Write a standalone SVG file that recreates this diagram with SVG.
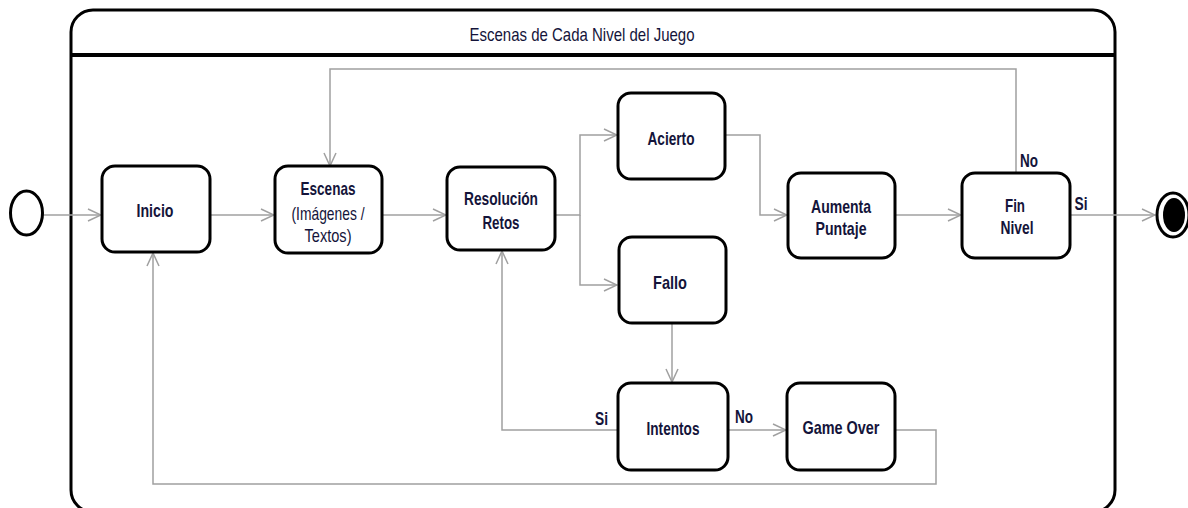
<svg xmlns="http://www.w3.org/2000/svg" width="1188" height="508" viewBox="0 0 1188 508">
<style>
.frame{fill:#fff;stroke:#000;stroke-width:3}
.node{fill:#fff;stroke:#000;stroke-width:3}
.c{fill:none;stroke:#a0a0a0;stroke-width:1.5}
.t{font-family:"Liberation Sans",Arial,sans-serif;font-size:19px;font-weight:bold;fill:#14143a;text-anchor:middle}
.r{font-weight:normal}
.h{font-family:"Liberation Sans",Arial,sans-serif;font-size:19px;fill:#14143a;text-anchor:middle}
.l{font-family:"Liberation Sans",Arial,sans-serif;font-size:18px;font-weight:bold;fill:#14143a;text-anchor:middle}
</style>
<defs>
<marker id="a" markerUnits="userSpaceOnUse" markerWidth="16" markerHeight="16" viewBox="-15 -8 16 16" refX="0" refY="0" orient="auto">
<path d="M-13,-6 L0,0 L-13,6" fill="none" stroke="#a0a0a0" stroke-width="1.5"/>
</marker>
</defs>
<rect width="1188" height="508" fill="#fff"/>
<g id="container">
<rect class="frame" x="71" y="10" width="1044" height="502" rx="22"/>
<line x1="71" y1="55" x2="1115" y2="55" stroke="#000" stroke-width="4"/>
<text class="h" x="582" y="41" textLength="225" lengthAdjust="spacingAndGlyphs">Escenas de Cada Nivel del Juego</text>
</g>
<g id="connectors">
<path class="c" d="M42,215 H101" marker-end="url(#a)"/>
<path class="c" d="M210,215 H274" marker-end="url(#a)"/>
<path class="c" d="M382,215 H446" marker-end="url(#a)"/>
<path class="c" d="M555,215 H580 V135 H617" marker-end="url(#a)"/>
<path class="c" d="M580,215 V285 H617" marker-end="url(#a)"/>
<path class="c" d="M725,135 H760 V215 H787" marker-end="url(#a)"/>
<path class="c" d="M895,215 H961" marker-end="url(#a)"/>
<path class="c" d="M1070,215 H1155" marker-end="url(#a)"/>
<path class="c" d="M1016,173 V69 H330 V166" marker-end="url(#a)"/>
<path class="c" d="M672,323 V382" marker-end="url(#a)"/>
<path class="c" d="M618,430 H502 V251" marker-end="url(#a)"/>
<path class="c" d="M728,430 H786" marker-end="url(#a)"/>
<path class="c" d="M895,430 H936 V484 H153 V253" marker-end="url(#a)"/>
<text class="l" x="601.5" y="425" textLength="13" lengthAdjust="spacingAndGlyphs">Si</text>
<text class="l" x="744" y="423" textLength="18" lengthAdjust="spacingAndGlyphs">No</text>
<text class="l" x="1029" y="167" textLength="18" lengthAdjust="spacingAndGlyphs">No</text>
<text class="l" x="1081" y="210" textLength="13" lengthAdjust="spacingAndGlyphs">Si</text>
</g>
<g id="initial">
<ellipse cx="26.5" cy="213" rx="16" ry="22" fill="#fff" stroke="#000" stroke-width="3"/>
</g>
<g id="inicio">
<rect class="node" x="102" y="166" width="108" height="86" rx="13"/>
<text class="t" x="155" y="217" textLength="37" lengthAdjust="spacingAndGlyphs">Inicio</text>
</g>
<g id="escenas">
<rect class="node" x="275" y="166" width="107" height="87" rx="13"/>
<text class="t" x="328" y="195" textLength="55" lengthAdjust="spacingAndGlyphs">Escenas</text>
<text class="t r" x="328" y="220" textLength="73" lengthAdjust="spacingAndGlyphs">(Imágenes /</text>
<text class="t r" x="328" y="242" textLength="47" lengthAdjust="spacingAndGlyphs">Textos)</text>
</g>
<g id="resolucion">
<rect class="node" x="447" y="167" width="108" height="83" rx="13"/>
<text class="t" x="501" y="205" textLength="74" lengthAdjust="spacingAndGlyphs">Resolución</text>
<text class="t" x="501" y="229" textLength="37" lengthAdjust="spacingAndGlyphs">Retos</text>
</g>
<g id="acierto">
<rect class="node" x="618" y="93" width="107" height="86" rx="13"/>
<text class="t" x="671" y="145" textLength="47" lengthAdjust="spacingAndGlyphs">Acierto</text>
</g>
<g id="fallo">
<rect class="node" x="619" y="237" width="107" height="86" rx="13"/>
<text class="t" x="670" y="289" textLength="34" lengthAdjust="spacingAndGlyphs">Fallo</text>
</g>
<g id="aumenta">
<rect class="node" x="788" y="173" width="107" height="85" rx="13"/>
<text class="t" x="841" y="213" textLength="60" lengthAdjust="spacingAndGlyphs">Aumenta</text>
<text class="t" x="841" y="235" textLength="51" lengthAdjust="spacingAndGlyphs">Puntaje</text>
</g>
<g id="finnivel">
<rect class="node" x="962" y="173" width="108" height="85" rx="13"/>
<text class="t" x="1015" y="212" textLength="20" lengthAdjust="spacingAndGlyphs">Fin</text>
<text class="t" x="1017" y="234" textLength="33" lengthAdjust="spacingAndGlyphs">Nivel</text>
</g>
<g id="intentos">
<rect class="node" x="618" y="383" width="110" height="87" rx="13"/>
<text class="t" x="673" y="435" textLength="53" lengthAdjust="spacingAndGlyphs">Intentos</text>
</g>
<g id="gameover">
<rect class="node" x="787" y="383" width="108" height="87" rx="13"/>
<text class="t" x="841" y="434" textLength="77" lengthAdjust="spacingAndGlyphs">Game Over</text>
</g>
<g id="final">
<ellipse cx="1173" cy="215" rx="16" ry="22" fill="#fff" stroke="#000" stroke-width="3"/>
<ellipse cx="1174" cy="215" rx="11" ry="17" fill="#000"/>
</g>
</svg>
